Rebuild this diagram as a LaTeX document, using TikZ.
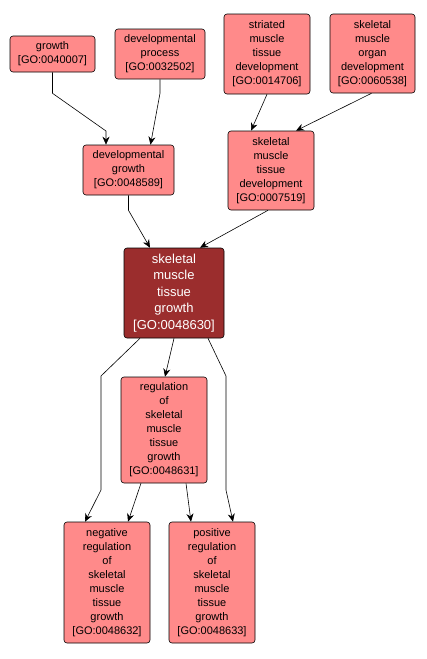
\documentclass[tikz,border=0pt]{standalone}
\usepackage{fontspec}
\setmainfont{Liberation Sans}
\usepackage{tikz}
\usetikzlibrary{arrows.meta}

\definecolor{termred}{RGB}{255,138,138}
\definecolor{focusred}{RGB}{155,45,45}

\tikzset{
  term/.style={draw=black, fill=termred, rounded corners=3pt, align=center, inner sep=0pt, line width=0.6pt, font=\fontsize{11}{14}\selectfont},
  focus/.style={term, fill=focusred, text=white, font=\fontsize{13}{16.5}\selectfont},
  edge/.style={black, line width=0.6pt, -{Stealth[length=8pt,width=7pt]}}
}

\begin{document}
\begin{tikzpicture}[x=1pt,y=-1pt]
		\useasboundingbox (0,0) rectangle (426,659);
		% top row
		\node[term, minimum width=85, minimum height=36] (growth) at (52.5,54) {growth\\{[GO:0040007]}};
		\node[term, minimum width=90, minimum height=50] (devproc) at (160,54) {developmental\\process\\{[GO:0032502]}};
		\node[term, minimum width=86, minimum height=80] (striated) at (267,54) {striated\\muscle\\tissue\\development\\{[GO:0014706]}};
		\node[term, minimum width=85, minimum height=79] (organdev) at (372.5,53.5) {skeletal\\muscle\\organ\\development\\{[GO:0060538]}};
		% second row
		\node[term, minimum width=91, minimum height=50] (devgrowth) at (128.5,170) {developmental\\growth\\{[GO:0048589]}};
		\node[term, minimum width=86, minimum height=79] (tissuedev) at (271,170.5) {skeletal\\muscle\\tissue\\development\\{[GO:0007519]}};
		% focus term
		\node[focus, minimum width=100, minimum height=90] (tissuegrowth) at (174,293) {skeletal\\muscle\\tissue\\growth\\{[GO:0048630]}};
		% children
		\node[term, minimum width=86, minimum height=106] (reg) at (164,430) {regulation\\of\\skeletal\\muscle\\tissue\\growth\\{[GO:0048631]}};
		\node[term, minimum width=86, minimum height=121] (negreg) at (107,582.5) {negative\\regulation\\of\\skeletal\\muscle\\tissue\\growth\\{[GO:0048632]}};
		\node[term, minimum width=86, minimum height=121] (posreg) at (212,582.5) {positive\\regulation\\of\\skeletal\\muscle\\tissue\\growth\\{[GO:0048633]}};

		\draw[edge] (growth.south) -- ++(0,21) -- (106,131) -- ([xshift=-22.5]devgrowth.north);
		\draw[edge] (devproc.south) -- ++(0,14) -- ([xshift=22]devgrowth.north);
		\draw[edge] (striated.south) -- ([xshift=-20]tissuedev.north);
		\draw[edge] ([xshift=-1]organdev.south) -- ([xshift=25]tissuedev.north);
		\draw[edge] (devgrowth.south) -- ++(0,15) -- ([xshift=-24]tissuegrowth.north);
		\draw[edge] ([xshift=-3]tissuedev.south) -- ([xshift=26]tissuegrowth.north);
		\draw[edge] (tissuegrowth.south) -- ([xshift=1]reg.north);
		\draw[edge] ([xshift=-34]tissuegrowth.south) -- (101,376) -- (101,490) -- ([xshift=-22]negreg.north);
		\draw[edge] ([xshift=34]tissuegrowth.south) -- (226,376) -- (226,490) -- ([xshift=21]posreg.north);
		\draw[edge] ([xshift=-23]reg.south) -- ([xshift=21]negreg.north);
		\draw[edge] ([xshift=22]reg.south) -- ([xshift=-21]posreg.north);
	\end{tikzpicture}
\end{document}
